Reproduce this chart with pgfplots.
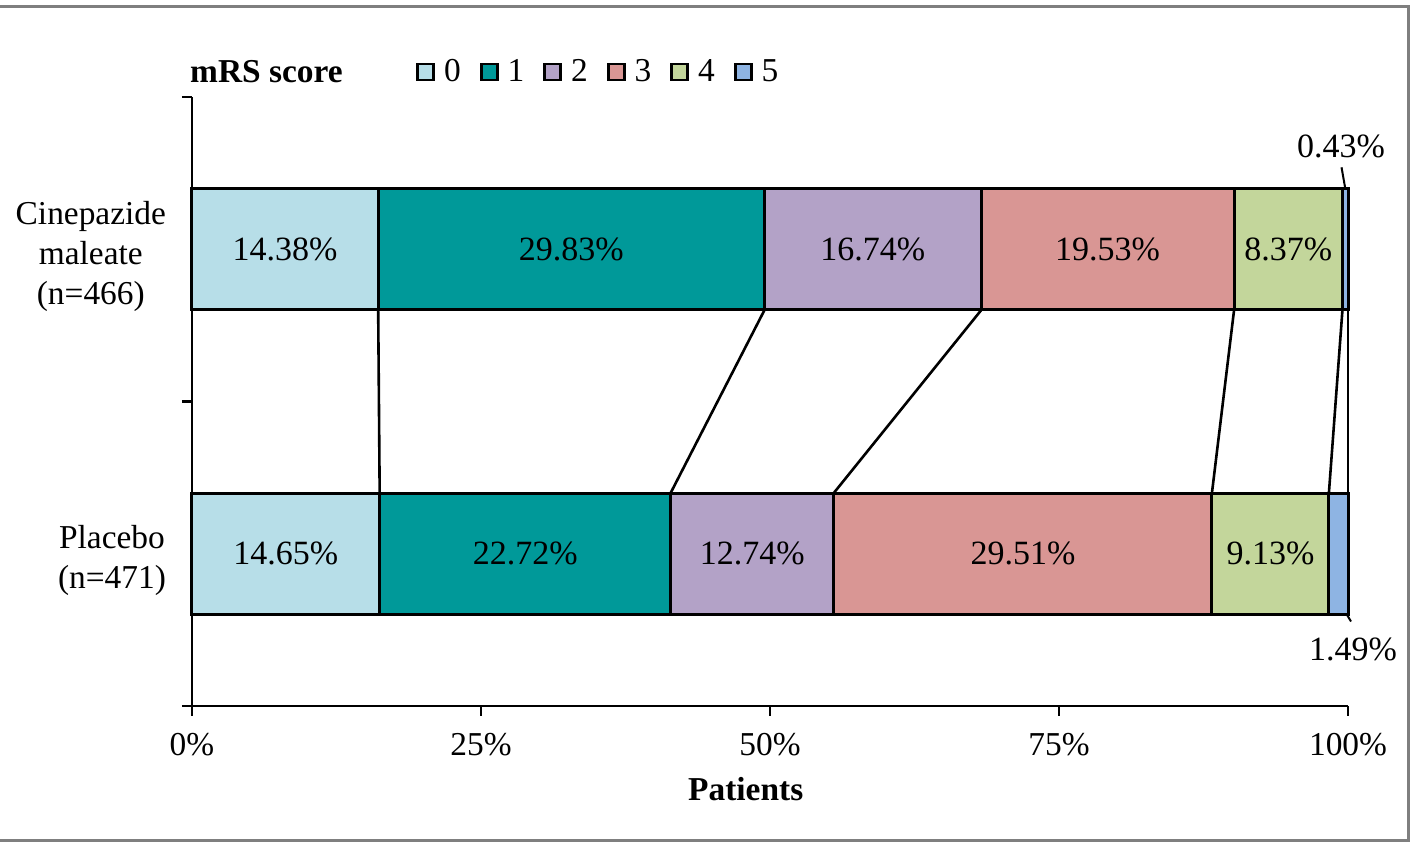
\documentclass[border=0pt]{standalone}
\usepackage{pgfplots}
\pgfplotsset{compat=1.18}
\usepackage{fontspec}
\setmainfont{Liberation Serif}
\definecolor{c0}{HTML}{B7DEE8}
\definecolor{c1}{HTML}{009999}
\definecolor{c2}{HTML}{B3A2C7}
\definecolor{c3}{HTML}{D99694}
\definecolor{c4}{HTML}{C3D69B}
\definecolor{c5}{HTML}{8EB4E3}
\definecolor{framegray}{HTML}{7F7F7F}
\newcommand{\fs}{\fontsize{16.7}{20}\selectfont}
\newcommand{\fd}{\fontsize{17}{20}\selectfont}
\begin{document}
\begin{tikzpicture}
\useasboundingbox (-96pt,-71.5pt) rectangle (613pt,353pt);
\draw[framegray, line width=1.5pt] (-97pt,349.5pt) -- (608pt,349.5pt) -- (608pt,-67.5pt) -- (-97pt,-67.5pt);
\pgfplotsset{
  mybase/.style={
    at={(0pt,0pt)}, anchor=south west,
    scale only axis, width=578pt, height=304.5pt,
    xmin=0, xmax=100, ymin=-0.5, ymax=1.5,
    enlargelimits=false, clip=false,
  }
}
% Shares of patients by mRS score (normalised so each bar spans 100%)
% Placebo raw: 14.65 22.72 12.74 29.51 9.13 1.49 ; Cinepazide raw: 14.38 29.83 16.74 19.53 8.37 0.43
\begin{axis}[mybase,
  xbar stacked, bar width=60.5pt,
  axis x line*=bottom, axis y line*=left,
  axis line style={black, line width=1.3pt},
  tick style={black, line width=1.3pt},
  major tick length=5pt, tick align=outside,
  xtick={0,25,50,75,100},
  xticklabels={0\%,25\%,50\%,75\%,100\%},
  xticklabel style={yshift=-5pt},
  ytick={-0.5,0.5,1.5}, yticklabels={},
  extra y ticks={0,1},
  extra y tick labels={{Placebo\\(n=471)},{Cinepazide\\maleate\\(n=466)}},
  extra y tick style={major tick length=0pt, yticklabel style={align=center, xshift=-9.5pt, yshift=-3.5pt}},
  tick label style={font=\fs},
  /pgf/number format/assume math mode=true,
  xlabel={\textbf{Patients}},
  xlabel style={font=\fs, at={(axis description cs:0.479,0)}, anchor=north, yshift=-32pt},
  legend columns=-1,
  legend style={at={(0.1938,1.041)}, anchor=west, draw=none, fill=none, inner sep=0pt, font=\fs, nodes={inner sep=2pt},
    /tikz/every odd column/.append style={column sep=2.5pt},
    /tikz/every even column/.append style={column sep=7.6pt}},
  every axis plot post/.append style={draw=black, line width=1.5pt,
    legend image code/.code={\draw[##1, line width=1.3pt] (0pt,-4pt) rectangle (8pt,4pt);}},
]
\addplot[fill=c0] coordinates {(16.234,0) (16.106,1)};
\addplot[fill=c1] coordinates {(25.177,0) (33.412,1)};
\addplot[fill=c2] coordinates {(14.118,0) (18.750,1)};
\addplot[fill=c3] coordinates {(32.702,0) (21.875,1)};
\addplot[fill=c4] coordinates {(10.117,0) (9.375,1)};
\addplot[fill=c5] coordinates {(1.652,0) (0.482,1)};
\legend{0,1,2,3,4,5}
\node[font=\bfseries\fs, anchor=base] at (rel axis cs:0.0644,1.0246) {mRS score};
\end{axis}
\begin{axis}[mybase, hide axis]
\addplot[black, line width=1.3pt] coordinates {(16.106,0.8) (16.234,0.2)};
\addplot[black, line width=1.3pt] coordinates {(49.518,0.8) (41.411,0.2)};
\addplot[black, line width=1.3pt] coordinates {(68.268,0.8) (55.529,0.2)};
\addplot[black, line width=1.3pt] coordinates {(90.143,0.8) (88.231,0.2)};
\addplot[black, line width=1.3pt] coordinates {(99.518,0.8) (98.348,0.2)};
\addplot[black, line width=1.3pt] coordinates {(100,0.8) (100,0.2)};
\addplot[black, line width=1pt] coordinates {(99.44,1.269) (99.76,1.2)};
\addplot[black, line width=1pt] coordinates {(99.9,-0.2) (100.26,-0.2225)};
\addplot[draw=none, mark=none, nodes near coords, point meta=explicit symbolic,
  every node near coord/.style={anchor=center, font=\fd, inner sep=0pt, text=black}]
coordinates {
(8.053,1) [14.38\%]
(32.812,1) [29.83\%]
(58.893,1) [16.74\%]
(79.206,1) [19.53\%]
(94.831,1) [8.37\%]
(99.4,1.336) [0.43\%]
(8.117,0) [14.65\%]
(28.823,0) [22.72\%]
(48.470,0) [12.74\%]
(71.880,0) [29.51\%]
(93.290,0) [9.13\%]
(100.43,-0.314) [1.49\%]
};
\end{axis}
\end{tikzpicture}
\end{document}
